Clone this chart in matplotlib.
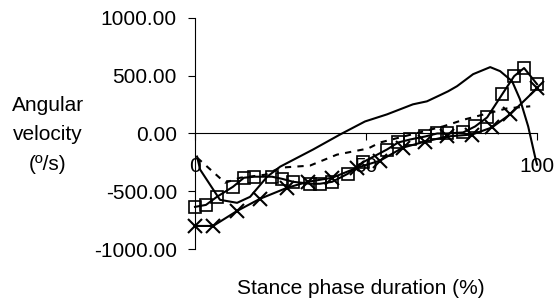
import matplotlib
matplotlib.use("Agg")
import matplotlib.pyplot as plt
from matplotlib.ticker import FormatStrFormatter

plt.rcParams['font.family'] = ['Liberation Sans', 'DejaVu Sans']

# series (x = % of stance, y = deg/s)
solid_x = [0.6, 1.5, 7.3, 12.3, 16.1, 21.1, 24.9, 34.5, 42.4, 49.7, 56.1, 63.7,
           67.8, 71.6, 74.0, 76.6, 81.3, 86.3, 89.2, 92.7, 95.0, 97.4, 99.4, 100.0]
solid_y = [-200, -313, -574, -600, -548, -374, -287, -139, -9, 104, 165, 252,
           278, 331, 365, 409, 513, 574, 539, 452, 296, 61, -200, -270]

dash_x = [0.6, 8.8, 13.2, 20.5, 24.9, 33.6, 41.5, 50.6, 54.1, 72.5, 78.9, 91.2, 98.0]
dash_y = [-209, -426, -383, -357, -296, -278, -183, -130, -78, 61, 122, 217, 235]

sq_x = [0, 3.2, 6.4, 11.1, 14.3, 17.3, 22.5, 25.4, 28.7, 33.6, 36.5, 40.1, 44.7,
        49.0, 56.1, 59.4, 62.9, 67.3, 70.8, 73.7, 78.4, 81.9, 85.4, 89.8, 93.3,
        96.2, 100.0]
sq_y = [-635, -618, -548, -461, -383, -374, -374, -392, -418, -435, -435, -418,
        -348, -250, -139, -78, -52, -26, 0, 0, 9, 61, 139, 339, 496, 566, 426]

cr_x = [0, 5.3, 12.3, 19.0, 26.9, 33.0, 40.1, 47.4, 54.1, 60.8, 67.3, 73.7,
        81.0, 86.8, 92.1, 100.0]
cr_y = [-800, -800, -670, -565, -470, -418, -383, -296, -235, -122, -70, -26,
        -9, 52, 165, 391]

x_ticks = [0, 50, 100]
y_ticks = [-1000, -500, 0, 500, 1000]

fig = plt.figure(figsize=(5.58, 3.03), dpi=100)
ax = fig.add_axes([0.3495, 0.178, 0.613, 0.763])

ax.plot(solid_x, solid_y, color='black', lw=1.5, clip_on=False)
ax.plot(dash_x, dash_y, color='black', lw=1.5, ls=(0, (3, 3)), clip_on=False)
ax.plot(sq_x, sq_y, color='black', lw=1.5, marker='s', ms=8.5, mfc='none',
        mec='black', mew=1.2, clip_on=False)
ax.plot(cr_x, cr_y, color='black', lw=1.5, marker='x', ms=10, mew=1.5,
        clip_on=False)

ax.set_xlim(0, 100)
ax.set_ylim(-1000, 1000)
ax.set_xticks(x_ticks)
ax.set_yticks(y_ticks)
ax.yaxis.set_major_formatter(FormatStrFormatter('%.2f'))

ax.spines['right'].set_visible(False)
ax.spines['top'].set_visible(False)
ax.spines['bottom'].set_position(('data', 0))
for s in ('left', 'bottom'):
    ax.spines[s].set_linewidth(0.8)

ax.tick_params(axis='x', direction='out', length=5, width=0.8, pad=12, labelsize=15)
ax.tick_params(axis='y', direction='out', length=5, width=0.8, pad=8, labelsize=15)

fig.text(48 / 558, 1 - 135 / 303, 'Angular\nvelocity\n(º/s)', ha='center',
         va='center', fontsize=15, linespacing=1.7)
fig.text(361 / 558, 1 - 289 / 303, 'Stance phase duration (%)', ha='center',
         va='center', fontsize=15)

fig.savefig('out.png', dpi=100)
